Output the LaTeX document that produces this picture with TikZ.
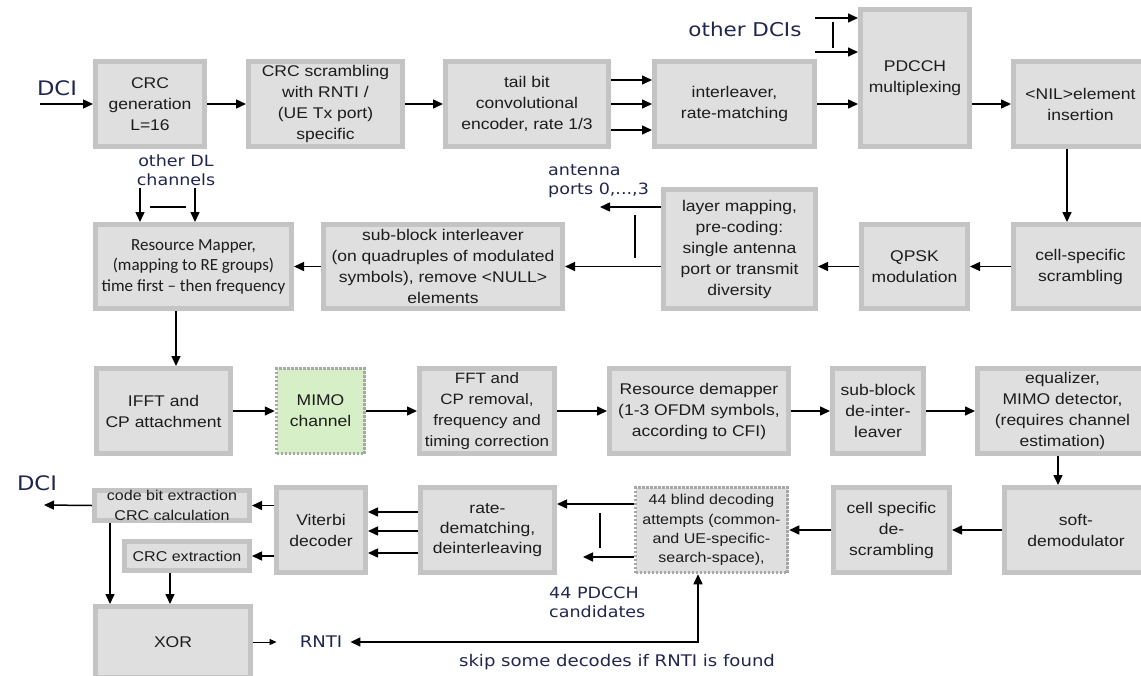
\documentclass[tikz,border=0pt]{standalone}
\usepackage{fontspec}
\setmainfont{Liberation Sans}[FakeStretch=1.13]
\newfontfamily\lblfont{DejaVu Sans}[FakeStretch=1.13]
\newfontfamily\mapfont{Carlito}
\usetikzlibrary{arrows.meta}
\definecolor{boxfill}{HTML}{DFDFDF}
\definecolor{boxedge}{HTML}{C4C4C4}
\definecolor{chanfill}{HTML}{D6EFC6}
\definecolor{lbl}{HTML}{20264F}
\definecolor{txt}{HTML}{1C1C1C}
% \blk[opts]{name}{x1}{y1}{x2}{y2}{text}: block given by its outer corners
\newcommand\blk[7][]{%
  \node[box,#1,minimum width={#5-#3-5},minimum height={#6-#4-5}]
    (#2) at ({(#3+#5)/2},{(#4+#6)/2}) {#7};}
\begin{document}
\begin{tikzpicture}[x=1pt,y=-1pt,
  box/.style={draw=boxedge,fill=boxfill,line width=5pt,align=center,
    inner sep=0pt,text=txt,font=\fontsize{15.5}{21}\selectfont},
  dotbox/.style={draw=boxedge!85!black,line width=3.5pt,
    dash pattern=on 2.5pt off 1.5pt},
  small/.style={font=\fontsize{14.2}{19.3}\selectfont},
  arr/.style={line width=1.5pt,-{Triangle[length=10pt,width=9pt]}},
  arrsmall/.style={line width=1pt,-{Triangle[length=7pt,width=6pt]}},
  bar/.style={line width=1.5pt},
  lab/.style={text=lbl,inner sep=0pt,font=\lblfont\fontsize{15.5}{19}\selectfont},
  biglab/.style={lab,font=\lblfont\fontsize{20}{24}\selectfont}]
\useasboundingbox (0,0) rectangle (1141,675);
\fill[white] (0,0) rectangle (1141,675);
\clip (0,0) rectangle (1141,675);

% ---- transmitter chain, first row
\blk{crcgen}{93}{59}{207}{149}{CRC\\generation\\L=16}
\blk{crcscr}{246}{59}{405}{149}{CRC scrambling\\with RNTI /\\(UE Tx port)\\specific}
\blk{tbcc}{443}{59}{611}{149}{tail bit\\convolutional\\encoder, rate 1/3}
\blk{intl}{652}{59}{817}{149}{interleaver,\\rate-matching}
\blk{pdcch}{858}{7}{972}{149}{PDCCH\\multiplexing}
\blk{nil}{1011}{59}{1150}{149}{<NIL>element\\insertion}

% ---- transmitter chain, second row (right to left)
\blk{cellscr}{1011}{222}{1150}{311}{cell-specific\\scrambling}
\blk{qpsk}{859}{222}{970}{311}{QPSK\\modulation}
\blk{layer}{661}{187}{818}{311}{layer mapping,\\pre-coding:\\single antenna\\port or transmit\\diversity}
\blk{sbi}{321}{222}{565}{311}{sub-block interleaver\\(on quadruples of modulated\\symbols), remove <NULL>\\elements}
\blk[font=\mapfont\fontsize{17}{20.5}\selectfont]{rmap}{93}{222}{294}{311}{Resource Mapper,\\(mapping to RE groups)\\time first – then frequency}

% ---- channel and receiver front end
\blk{ifft}{94}{366}{233}{456}{IFFT and\\CP attachment}
\blk[dotbox,fill=chanfill]{mimo}{274}{366}{367}{456}{MIMO\\channel}
\blk[font=\fontsize{15}{21}\selectfont]{fft}{417}{366}{557}{456}{FFT and\\CP removal,\\frequency and\\timing correction}
\blk{rdm}{607}{366}{791}{456}{Resource demapper\\(1-3 OFDM symbols,\\according to CFI)}
\blk{sbdi}{830}{366}{926}{456}{sub-block\\de-inter-\\leaver}
\blk{eq}{975}{366}{1150}{456}{equalizer,\\MIMO detector,\\(requires channel\\estimation)}

% ---- receiver back end
\blk{soft}{1002}{485}{1150}{575}{soft-\\demodulator}
\blk{cds}{831}{485}{952}{575}{cell specific\\de-\\scrambling}
\blk[dotbox,small]{blind}{633}{485}{790}{575}{44 blind decoding\\attempts (common-\\and UE-specific-\\search-space),}
\blk[font=\fontsize{15.5}{20}\selectfont]{rdmt}{418}{485}{557}{575}{rate-\\dematching,\\deinterleaving}
\blk{vit}{274}{485}{368}{575}{Viterbi\\decoder}
\blk[small,inner ysep=-2pt]{cbe}{92}{488}{252}{523}{code bit extraction\\CRC calculation}
\blk[small]{crcx}{122}{539}{252}{573}{CRC extraction}
\blk{xor}{93}{604}{253}{680}{XOR}

% ---- free labels
\node[biglab,anchor=base] (dcitop) at (57,95) {DCI};
\node[lab,font=\lblfont\fontsize{19}{23}\selectfont,anchor=base] (odci) at (745,36) {other DCIs};
\node[lab,align=center] (dlch) at (176,170) {other DL\\channels};
\node[lab,align=left,anchor=west] (ant) at (548,181) {antenna\\ports 0,...,3};
\node[biglab,anchor=base] (dcibot) at (37,490) {DCI};
\node[lab,align=left,anchor=west] (cand) at (549,602) {44 PDCCH\\candidates};
\node[lab,font=\lblfont\fontsize{16}{19}\selectfont,inner xsep=8pt] (rnti) at (321,642) {RNTI};
\node[lab,font=\lblfont\fontsize{16}{19}\selectfont,anchor=base] (skip) at (617,666) {skip some decodes if RNTI is found};

% ---- free ends of connectors
\coordinate (dciin) at (40,104);
\coordinate (dcisa) at (815,18);
\coordinate (dcisb) at (815,52);
\coordinate (dcibart) at (833,22);
\coordinate (dcibarb) at (833,48);
\coordinate (antout) at (600,207);
\coordinate (antbart) at (635,215);
\coordinate (antbarb) at (635,258);
\coordinate (dla) at (140,188);
\coordinate (dlb) at (195,188);
\coordinate (dlbarl) at (150,207);
\coordinate (dlbarr) at (186,207);
\coordinate (candout) at (583,557);
\coordinate (candbart) at (600,513);
\coordinate (candbarb) at (600,548);
\coordinate (dciout) at (44,505);
\coordinate (skipbend) at (698,642);

% ---- first row
\draw[arr] (dciin) -- (crcgen);
\draw[arr] (crcgen) -- (crcscr);
\draw[arr] (crcscr) -- (tbcc);
\foreach \yy in {80,104,130}
  \draw[arr] (tbcc.east |- 0,\yy) -- (intl.west |- 0,\yy);
\draw[arr] (dcisa) -- (dcisa -| pdcch.west);
\draw[arr] (dcisb) -- (dcisb -| pdcch.west);
\draw[bar] (dcibart) -- (dcibarb);
\draw[arr] (intl.east) -- (intl.east -| pdcch.west);
\draw[arr] (nil.west -| pdcch.east) -- (nil.west);
\draw[arr] (nil.south -| 1067,0) -- (cellscr.north -| 1067,0);

% ---- second row
\draw[arr] (cellscr) -- (qpsk);
\draw[arr] (qpsk.west) -- (qpsk.west -| layer.east);
\draw[arr] (layer.west |- sbi.east) -- (sbi.east);
\draw[arr] (layer.west |- antout) -- (antout);
\draw[bar] (antbart) -- (antbarb);
\draw[arr] (sbi) -- (rmap);
\draw[arr] (dla) -- (dla |- rmap.north);
\draw[arr] (dlb) -- (dlb |- rmap.north);
\draw[bar] (dlbarl) -- (dlbarr);
\draw[arr] (rmap.south -| 176,0) -- (ifft.north -| 176,0);

% ---- third row
\draw[arr] (ifft) -- (mimo);
\draw[arr] (mimo) -- (fft);
\draw[arr] (fft) -- (rdm);
\draw[arr] (rdm) -- (sbdi);
\draw[arr] (sbdi) -- (sbdi -| eq.west);
\draw[arr] (eq.south -| 1058,0) -- (soft.north -| 1058,0);

% ---- fourth row
\draw[arr] (soft.west |- cds) -- (cds);
\draw[arr] (cds) -- (blind);
\draw[arr] (blind.west |- 0,504) -- (rdmt.east |- 0,504);
\draw[arr] (blind.west |- candout) -- (candout);
\draw[bar] (candbart) -- (candbarb);
\foreach \yy in {512,531,553}
  \draw[arr] (rdmt.west |- 0,\yy) -- (vit.east |- 0,\yy);
\draw[arr] (vit.west |- cbe.east) -- (cbe.east);
\draw[arr] (vit.west |- crcx.east) -- (crcx.east);
\draw[arr] (cbe.west) -- (dciout);
\draw[arr] (cbe.south -| 110,0) -- (xor.north -| 110,0);
\draw[arr] (crcx.south -| 170,0) -- (xor.north -| 170,0);
\draw[arrsmall,shorten >=15pt] (xor.east) -- (rnti.west);
\draw[line width=1.5pt,{Triangle[length=10pt,width=9pt]}-{Triangle[length=10pt,width=9pt]}]
  (rnti.east) -- (skipbend) -- (skipbend |- blind.south);
\end{tikzpicture}
\end{document}
